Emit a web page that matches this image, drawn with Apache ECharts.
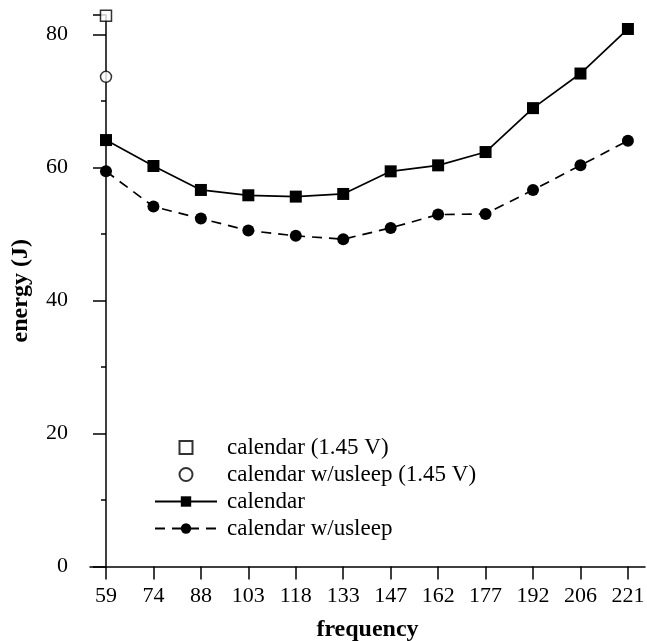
<!DOCTYPE html>
<html>
<head>
<meta charset="utf-8">
<script src="https://cdn.jsdelivr.net/npm/echarts@6/dist/echarts.min.js"></script>
<style>html,body{margin:0;padding:0;background:#fff}#c{width:647px;height:641px}</style>
</head>
<body>
<div id="c"></div>
<script>
var frequencies = ['59','74','88','103','118','133','147','162','177','192','206','221'];
var calendar = [64.1,60.2,56.6,55.8,55.6,56.0,59.4,60.3,62.3,68.9,74.1,80.8];
var calendarUsleep = [59.4,54.1,52.3,50.5,49.7,49.2,50.9,52.9,53.0,56.6,60.3,64.0];
var calendarHighV = [82.8];
var calendarUsleepHighV = [73.6];
var yTicks = [0,20,40,60,80];

function toPts(arr){ return arr.map(function(v,i){ return [i,v]; }); }
var idx = frequencies.map(function(f,i){ return i; });
var SQUARE = 'path://M0,0L10,0L10,10L0,10Z';

var chart = echarts.init(document.getElementById('c'), null, {renderer:'canvas'});
var FONT = 'Liberation Serif';
chart.setOption({
  animation:false,
  backgroundColor:'#fff',
  textStyle:{fontFamily:FONT,color:'#000'},
  grid:{left:90,right:2,top:15,bottom:74.5,containLabel:false,outerBoundsMode:'none'},
  xAxis:{
    type:'value', min:-0.337, max:11.36,
    name:'frequency', nameLocation:'middle', nameGap:51,
    nameTextStyle:{fontFamily:FONT,fontSize:24,fontWeight:'bold',color:'#000'},
    axisLine:{show:true,onZero:true,lineStyle:{color:'#000',width:1.5}},
    axisTick:{show:true,inside:false,length:13,lineStyle:{color:'#000',width:1.5},customValues:idx},
    axisLabel:{show:true,margin:19,fontFamily:FONT,fontSize:22,color:'#000',customValues:idx,
      formatter:function(v){ var i=Math.round(v); return frequencies[i]; }},
    splitLine:{show:false}
  },
  yAxis:{
    type:'value', min:0, max:82.9, interval:20,
    name:'energy (J)', nameLocation:'middle', nameGap:57,
    nameTextStyle:{fontFamily:FONT,fontSize:24,fontWeight:'bold',color:'#000'},
    axisLine:{show:true,lineStyle:{color:'#000',width:1.5}},
    axisTick:{show:true,inside:false,length:13,lineStyle:{color:'#000',width:1.5}},
    minorTick:{show:true,splitNumber:2,length:5,lineStyle:{color:'#000',width:1.5}},
    axisLabel:{margin:22,fontFamily:FONT,fontSize:22,color:'#000',
      formatter:function(v){ return yTicks.indexOf(v)>=0 ? String(v) : ''; }},
    splitLine:{show:false}
  },
  legend:{
    orient:'vertical', left:149, top:431, itemGap:4, itemWidth:62, itemHeight:13,
    textStyle:{fontFamily:FONT,fontSize:23,color:'#000',padding:[0,0,0,5]},
    data:['calendar (1.45 V)','calendar w/usleep (1.45 V)','calendar','calendar w/usleep']
  },
  series:[
    {name:'calendar (1.45 V)', type:'scatter', data:[[0,calendarHighV[0]]],
      symbol:SQUARE, symbolSize:11, symbolKeepAspect:true,
      itemStyle:{color:'#fff',borderColor:'#000',borderWidth:1.5}},
    {name:'calendar w/usleep (1.45 V)', type:'scatter', data:[[0,calendarUsleepHighV[0]]],
      symbol:'circle', symbolSize:11,
      itemStyle:{color:'#fff',borderColor:'#000',borderWidth:1.5}},
    {name:'calendar', type:'line', data:toPts(calendar),
      symbol:'rect', symbolSize:12, showAllSymbol:true,
      lineStyle:{color:'#000',width:1.7,type:'solid'},
      itemStyle:{color:'#000'}},
    {name:'calendar w/usleep', type:'line', data:toPts(calendarUsleep),
      symbol:'circle', symbolSize:12, showAllSymbol:true,
      lineStyle:{color:'#000',width:1.7,type:[10,7]},
      itemStyle:{color:'#000'}}
  ]
});
</script>
</body>
</html>
